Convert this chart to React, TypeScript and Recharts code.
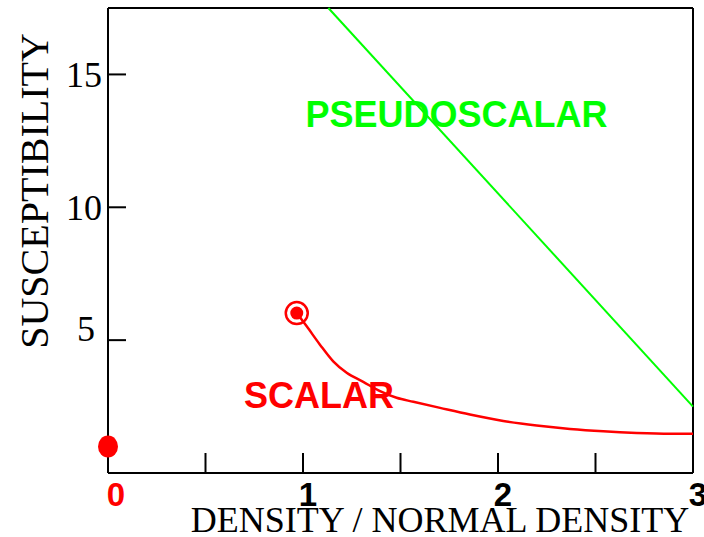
import { ComposedChart, Line, Scatter, XAxis, YAxis, ReferenceLine, ReferenceDot } from 'recharts'

const xTicks = [0, 0.5, 1, 1.5, 2, 2.5, 3]
const yTicks = [5, 10, 15]

const pseudoscalar = [
  { x: 1.13, y: 17.5 },
  { x: 3, y: 2.5 },
]

const scalar = [
  { x: 0.968, y: 6.02 },
  { x: 1.019, y: 5.52 },
  { x: 1.087, y: 4.83 },
  { x: 1.155, y: 4.2 },
  { x: 1.224, y: 3.77 },
  { x: 1.309, y: 3.43 },
  { x: 1.395, y: 3.08 },
  { x: 1.48, y: 2.83 },
  { x: 1.566, y: 2.68 },
  { x: 1.703, y: 2.45 },
  { x: 1.856, y: 2.2 },
  { x: 2.027, y: 1.96 },
  { x: 2.198, y: 1.79 },
  { x: 2.369, y: 1.66 },
  { x: 2.54, y: 1.57 },
  { x: 2.711, y: 1.51 },
  { x: 2.882, y: 1.48 },
  { x: 3, y: 1.48 },
]

const scalarStart = [{ x: 0.968, y: 6.02 }]
const vacuumPoint = [{ x: 0, y: 1 }]

const SANS = '"Liberation Sans", Arial, sans-serif'
const SERIF = '"Liberation Serif", "Times New Roman", serif'
const GREEN = '#00ff00'
const RED = '#ff0000'

function XTick(props: any) {
  const { x, y, payload } = props
  const v = payload.value
  if (v % 1 !== 0) return null
  const isZero = v === 0
  return (
    <text
      x={x + (isZero ? 8 : 5)}
      y={y + 23}
      textAnchor="middle"
      fontFamily={SANS}
      fontWeight="bold"
      fontSize={33}
      fill={isZero ? RED : '#000'}
    >
      {v}
    </text>
  )
}

function YTick(props: any) {
  const { x, y, payload } = props
  const v = payload.value
  const five = v === 5
  return (
    <text
      x={x + (five ? 2 : 0)}
      y={y + (five ? 1 : 13)}
      textAnchor="middle"
      fontFamily={SERIF}
      fontSize={36}
      fill="#000"
    >
      {v}
    </text>
  )
}

function XTitle() {
  return (
    <g>
      <rect x={186} y={504} width={510} height={33} fill="#fff" />
      <text x={440} y={532} textAnchor="middle" fontFamily={SERIF} fontSize={36} fill="#000">
        DENSITY / NORMAL DENSITY
      </text>
    </g>
  )
}

function YTitle() {
  return (
    <text
      x={48}
      y={191}
      transform="rotate(-90 48 191)"
      textAnchor="middle"
      fontFamily={SERIF}
      fontSize={40}
      fill="#000"
    >
      SUSCEPTIBILITY
    </text>
  )
}

export default function App() {
  return (
    <div style={{ position: 'absolute', left: 0, top: 0, width: 704, height: 537, background: '#fff' }}>
      <ComposedChart width={704} height={537} margin={{ top: 8, right: 11, bottom: 0, left: 0 }}>
        <XAxis
          type="number"
          dataKey="x"
          domain={[0, 3]}
          ticks={xTicks}
          interval={0}
          height={64}
          tickSize={-20}
          tickMargin={30}
          tick={<XTick />}
          axisLine={{ stroke: '#000', strokeWidth: 2 }}
          tickLine={{ stroke: '#000', strokeWidth: 2 }}
          label={<XTitle />}
          allowDecimals
        />
        <YAxis
          type="number"
          dataKey="y"
          domain={[0, 17.5]}
          ticks={yTicks}
          interval={0}
          width={108}
          tickSize={-18}
          tickMargin={42}
          tick={<YTick />}
          axisLine={{ stroke: '#000', strokeWidth: 2 }}
          tickLine={{ stroke: '#000', strokeWidth: 2 }}
          label={<YTitle />}
        />
        <ReferenceLine y={17.5} stroke="#000" strokeWidth={2} />
        <ReferenceLine x={3} stroke="#000" strokeWidth={2} />
        <Line
          data={pseudoscalar}
          dataKey="y"
          type="linear"
          stroke={GREEN}
          strokeWidth={2}
          dot={false}
          isAnimationActive={false}
        />
        <Line
          data={scalar}
          dataKey="y"
          type="monotone"
          stroke={RED}
          strokeWidth={2.5}
          dot={false}
          isAnimationActive={false}
        />
        <Scatter
          data={scalarStart}
          dataKey="y"
          isAnimationActive={false}
          shape={(p: any) => (
            <g>
              <circle cx={p.cx} cy={p.cy} r={11} fill="none" stroke={RED} strokeWidth={2.5} />
              <circle cx={p.cx} cy={p.cy} r={6.5} fill={RED} />
            </g>
          )}
        />
        <Scatter
          data={vacuumPoint}
          dataKey="y"
          isAnimationActive={false}
          shape={(p: any) => <ellipse cx={p.cx} cy={p.cy} rx={10} ry={11} fill={RED} />}
        />
        <ReferenceDot
          x={1.787}
          y={13.03}
          r={0}
          shape={(p: any) => (
            <text x={p.cx} y={p.cy} textAnchor="middle" fontFamily={SANS} fontWeight="bold" fontSize={36} fill={GREEN}>
              PSEUDOSCALAR
            </text>
          )}
        />
        <ReferenceDot
          x={1.082}
          y={2.46}
          r={0}
          shape={(p: any) => (
            <text x={p.cx} y={p.cy} textAnchor="middle" fontFamily={SANS} fontWeight="bold" fontSize={36} fill={RED}>
              SCALAR
            </text>
          )}
        />
      </ComposedChart>
    </div>
  )
}
